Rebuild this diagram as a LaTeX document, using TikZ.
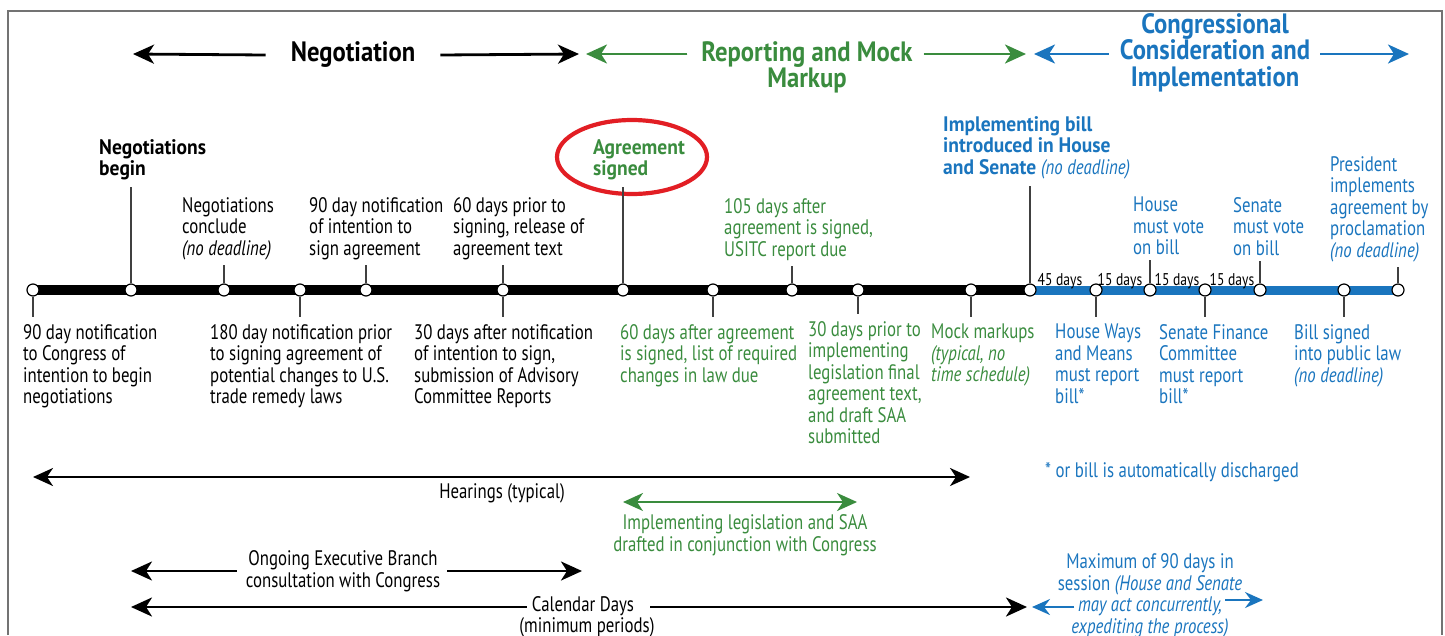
\documentclass[tikz,border=0pt]{standalone}
\usepackage{fontspec}
\setmainfont{PT Sans}[FakeStretch=0.8]
\newfontfamily\bdfam{PT Sans}[FakeStretch=0.93]
\newfontfamily\hdfam{PT Sans}[FakeStretch=0.88]
\usetikzlibrary{arrows.meta, positioning, shapes.geometric}

\definecolor{tgreen}{RGB}{58,140,62}
\definecolor{tblue}{RGB}{26,117,190}
\definecolor{tred}{RGB}{226,30,36}
\newcommand\lblfont{\fontsize{21}{21.5}\selectfont}
\newcommand\bdfont{\fontsize{21}{21.5}\selectfont\bdfam\bfseries}
\newcommand\hdfont{\fontsize{28}{26.5}\selectfont\hdfam\bfseries}
\newcommand\dayfont{\fontsize{17}{18}\selectfont}

\begin{document}
\begin{tikzpicture}[
    x=1pt, y=-1pt,
    lbl/.style={font=\lblfont, align=left, anchor=north west, inner sep=0pt},
    mid/.style={font=\lblfont, align=center, inner sep=0pt},
    head/.style={font=\hdfont, align=center, inner sep=0pt},
    days/.style={font=\dayfont, anchor=base, inner sep=0pt},
    dot/.style={circle, draw, fill=white, line width=1.2pt, minimum size=12pt, inner sep=0pt},
    tick/.style={line width=1.1pt, draw=black!75},
    harrow/.style={-{Stealth[length=21pt, width=19pt, inset=6pt]}, line width=2.8pt},
    barrow/.style={{Stealth[length=20pt, width=18pt, inset=6pt]}-{Stealth[length=20pt, width=18pt, inset=6pt]}, line width=2.6pt},
    sarrow/.style={-{Stealth[length=18pt, width=16pt, inset=6pt]}, line width=2.4pt},
    ring/.style={draw=tred, ellipse, line width=4.2pt, minimum width=150pt, minimum height=74pt}
]
    \useasboundingbox (0,0) rectangle (1445,635);
    \draw[black!55, line width=1.2pt] (8,635) -- (8,11) -- (1442,11) -- (1442,635);

    % Phase headings
    \node[head] (neg) at (353,55) {Negotiation};
    \node[head, anchor=north, text=tgreen] (rep) at (807,41) {Reporting and Mock\\Markup};
    \node[head, anchor=north, text=tblue] (cong) at (1215,13) {Congressional\\Consideration and\\Implementation};
    \coordinate (negL) at (133,54);
    \coordinate (negR) at (579,54);
    \coordinate (repL) at (586,54);
    \coordinate (repR) at (1026,54);
    \coordinate (congL) at (1034,54);
    \coordinate (congR) at (1409,54);
    \draw[harrow] ([xshift=-25pt]neg.west) -- (negL);
    \draw[harrow] ([xshift=25pt]neg.east) -- (negR);
    \draw[harrow, draw=tgreen, fill=tgreen] ([xshift=-14pt]rep.west |- negL) -- (repL);
    \draw[harrow, draw=tgreen, fill=tgreen] ([xshift=11pt]rep.east |- negL) -- (repR);
    \draw[harrow, draw=tblue, fill=tblue] ([xshift=-11pt]cong.west |- negL) -- (congL);
    \draw[harrow, draw=tblue, fill=tblue] ([xshift=10pt]cong.east |- negL) -- (congR);

    % Time line
    \coordinate (t1) at (33,290);
    \coordinate (t12) at (1030,290);
    \coordinate (t18) at (1398,290);
    \draw[line width=10pt] (t1) -- (t12);
    \draw[line width=9pt, draw=tblue] (t12) -- (t18);
    \node[dot] (d1) at (t1) {};
    \node[dot] (d2) at (131,290) {};
    \node[dot] (d3) at (224,290) {};
    \node[dot] (d4) at (300,290) {};
    \node[dot] (d5) at (366,290) {};
    \node[dot] (d6) at (503,290) {};
    \node[dot] (d7) at (623,290) {};
    \node[dot] (d8) at (713,290) {};
    \node[dot] (d9) at (792,290) {};
    \node[dot] (d10) at (858,290) {};
    \node[dot] (d11) at (971,290) {};
    \node[dot] (d12) at (t12) {};
    \node[dot] (d13) at (1096,290) {};
    \node[dot] (d14) at (1150,290) {};
    \node[dot] (d15) at (1205,290) {};
    \node[dot] (d16) at (1260,290) {};
    \node[dot] (d17) at (1344,290) {};
    \node[dot] (d18) at (t18) {};

    % Day counts
    \node[days] (g45) at (1060,285) {45 days};
    \node[days] (g15a) at (1120,285) {15 days};
    \node[days] (g15b) at (1177,285) {15 days};
    \node[days] (g15c) at (1232,285) {15 days};

    % Events above the line
    \node[lbl, font=\bdfont] (nbeg) at (99,139) {Negotiations\\begin};
    \node[lbl] (nconc) at (182,197) {Negotiations\\conclude\\\textit{(no deadline)}};
    \node[lbl] (nnotif) at (309,197) {90 day notification\\of intention to\\sign agreement};
    \node[lbl] (nprior) at (453,197) {60 days prior to\\signing, release of\\agreement text};
    \node[lbl, font=\bdfont, text=tgreen] (signed) at (593,139) {Agreement\\signed};
    \node[ring] (ring) at (632,157) {};
    \node[lbl, text=tgreen] (usitc) at (724,198) {105 days after\\agreement is signed,\\USITC report due};
    \node[lbl, font=\bdfont, text=tblue] (intro) at (943,116) {Implementing bill\\introduced in House\\and Senate {\normalfont\itshape (no deadline)}};
    \node[lbl, text=tblue] (hvote) at (1133,197) {House\\must vote\\on bill};
    \node[lbl, text=tblue] (svote) at (1233,197) {Senate\\must vote\\on bill};
    \node[lbl, text=tblue] (pres) at (1330,156) {President\\implements\\agreement by\\proclamation\\\textit{(no deadline)}};

    \draw[tick] (d2) -- ([yshift=-7pt]d2 |- nbeg.south);
    \draw[tick] (d3) -- ([yshift=-5pt]d3 |- nconc.south);
    \draw[tick] (d5) -- ([yshift=-5pt]d5 |- nnotif.south);
    \draw[tick] (d6) -- ([yshift=-5pt]d6 |- nprior.south);
    \draw[tick] (d7) -- ([yshift=-7pt]d7 |- signed.south);
    \draw[tick] (d9) -- ([yshift=-5pt]d9 |- usitc.south);
    \draw[tick] (d12) -- ([yshift=-7pt]d12 |- intro.south);
    \draw[tick] (d14) -- ([yshift=-5pt]d14 |- hvote.south);
    \draw[tick] (d16) -- ([yshift=-5pt]d16 |- svote.south);
    \draw[tick] (d18) -- ([yshift=-5pt]d18 |- pres.south);

    % Events below the line
    \node[lbl] (b90) at (23,324) {90 day notification\\to Congress of\\intention to begin\\negotiations};
    \node[lbl] (b180) at (210,324) {180 day notification prior\\to signing agreement of\\potential changes to U.S.\\trade remedy laws};
    \node[lbl] (b30) at (414,324) {30 days after notification\\of intention to sign,\\submission of Advisory\\Committee Reports};
    \node[lbl, text=tgreen] (bchg) at (620,324) {60 days after agreement\\is signed, list of required\\changes in law due};
    \node[lbl, text=tgreen] (bfinal) at (808,321) {30 days prior to\\implementing\\legislation final\\agreement text,\\and draft SAA\\submitted};
    \node[lbl, text=tgreen] (bmock) at (931,324) {Mock markups\\\textit{(typical, no}\\\textit{time schedule)}};
    \node[lbl, text=tblue] (bways) at (1055,324) {House Ways\\and Means\\must report\\bill*};
    \node[lbl, text=tblue] (bfin) at (1159,324) {Senate Finance\\Committee\\must report\\bill*};
    \node[lbl, text=tblue] (blaw) at (1294,324) {Bill signed\\into public law\\\textit{(no deadline)}};

    \draw[tick] (d1) -- ([yshift=7pt]d1 |- b90.north);
    \draw[tick] (d4) -- ([yshift=7pt]d4 |- b180.north);
    \draw[tick] (d6) -- ([yshift=7pt]d6 |- b30.north);
    \draw[tick] (d8) -- ([yshift=7pt]d8 |- bchg.north);
    \draw[tick] (d10) -- ([yshift=7pt]d10 |- bfinal.north);
    \draw[tick] (d11) -- ([yshift=7pt]d11 |- bmock.north);
    \draw[tick] (d13) -- ([yshift=7pt]d13 |- bways.north);
    \draw[tick] (d15) -- ([yshift=7pt]d15 |- bfin.north);
    \draw[tick] (d17) -- ([yshift=7pt]d17 |- blaw.north);

    % Spans
    \coordinate (hearL) at (33,477);
    \coordinate (hearR) at (970,477);
    \draw[barrow] (hearL) -- (hearR);
    \node[mid] (hear) at (502,493) {Hearings (typical)};
    \node[mid, text=tblue] (disc) at (1172,472) {* or bill is automatically discharged};

    \coordinate (draftL) at (623,502);
    \coordinate (draftR) at (857,502);
    \draw[barrow, draw=tgreen, fill=tgreen, line width=2.2pt] (draftL) -- (draftR);
    \node[mid, text=tgreen] (draft) at (745,535) {Implementing legislation and SAA\\drafted in conjunction with Congress};

    \node[mid] (ongo) at (343,571) {Ongoing Executive Branch\\consultation with Congress};
    \coordinate (ongoL) at (131,571);
    \coordinate (ongoR) at (582,571);
    \draw[harrow] ([xshift=-9pt]ongo.west) -- (ongoL);
    \draw[harrow] ([xshift=7pt]ongo.east) -- (ongoR);

    \node[mid] (calt) at (583,606) {Calendar Days};
    \node[mid] (calm) at (587,627) {(minimum periods)};
    \coordinate (calL) at (131,607);
    \coordinate (calR) at (1027,607);
    \draw[harrow] ([xshift=-5pt]calt.west |- calL) -- (calL);
    \draw[harrow] ([xshift=16pt]calt.east |- calL) -- (calR);

    \node[mid, text=tblue] (maxd) at (1150,596) {Maximum of 90 days in\\session \textit{(House and Senate}\\\textit{may act concurrently,}\\\textit{expediting the process)}};
    \coordinate (maxA) at (1074,607);
    \coordinate (maxL) at (1032,607);
    \coordinate (maxB) at (1225,600);
    \coordinate (maxR) at (1263,600);
    \draw[sarrow, draw=tblue, fill=tblue] (maxA) -- (maxL);
    \draw[sarrow, draw=tblue, fill=tblue] (maxB) -- (maxR);
\end{tikzpicture}
\end{document}
